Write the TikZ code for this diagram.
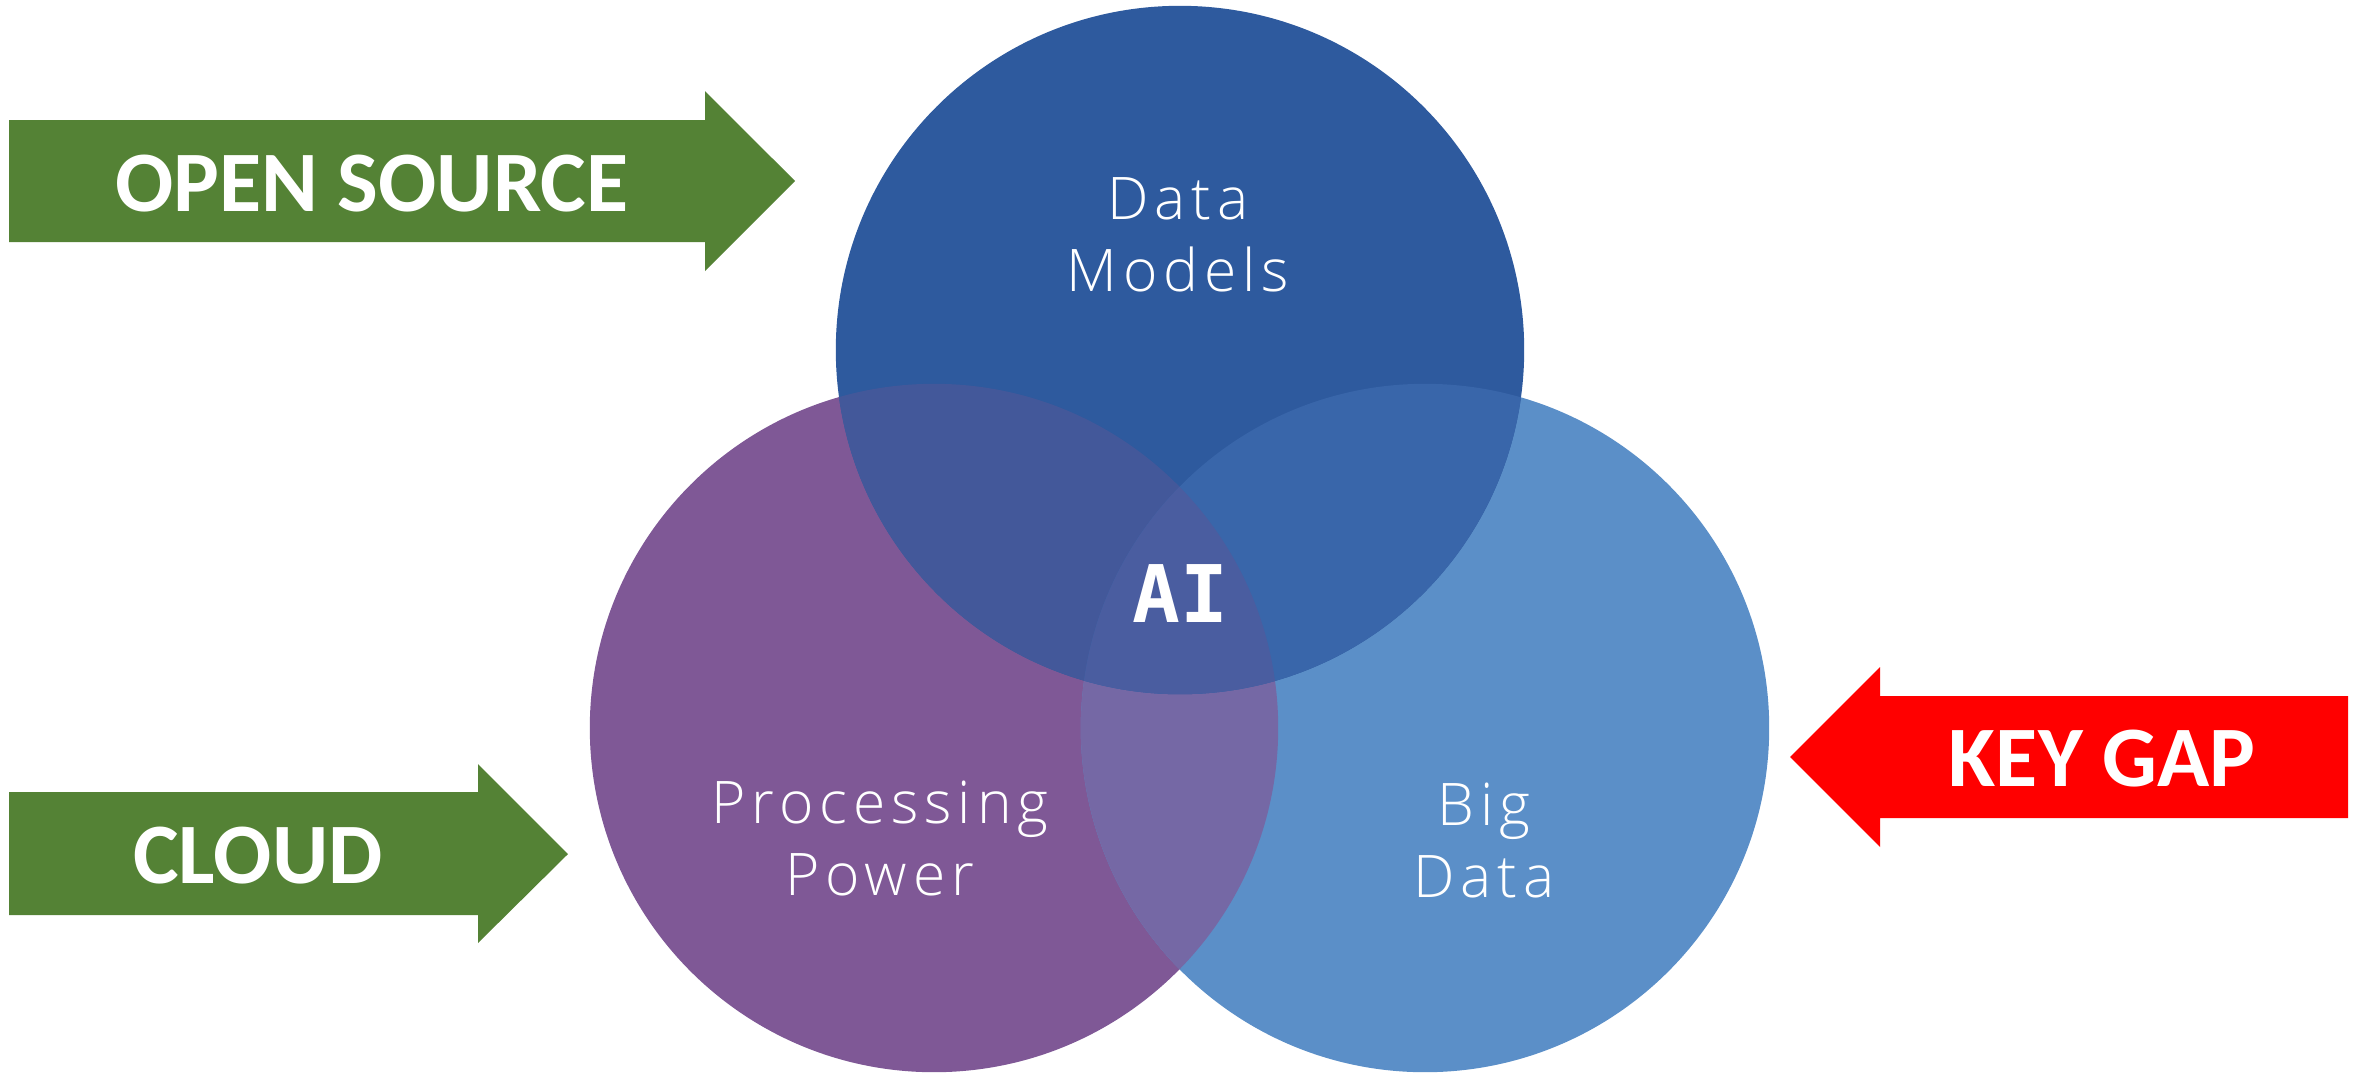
\documentclass[tikz,border=0pt]{standalone}
\usepackage{fontspec}
\setmainfont{Open Sans}[UprightFont=* Light, LetterSpace=10]
\newfontfamily\arrowfont{Carlito}[BoldFont=* Bold]
\newfontfamily\aifont{DejaVu Sans Mono}[BoldFont=* Bold]

\definecolor{dataBlue}{HTML}{2E5A9E}
\definecolor{procPurple}{HTML}{7F5896}
\definecolor{bigBlue}{HTML}{5B8FC8}
\definecolor{procBig}{HTML}{7568A5}
\definecolor{dataProc}{HTML}{43589A}
\definecolor{dataBig}{HTML}{3966AA}
\definecolor{allThree}{HTML}{4A5DA0}
\definecolor{arrowGreen}{HTML}{548235}
\definecolor{gapRed}{HTML}{FF0000}

\tikzset{
    circleText/.style={text=white, align=center, inner sep=0pt, anchor=base,
        font=\fontsize{16.7}{20.3}\selectfont},
    arrowText/.style={text=white, inner sep=0pt, anchor=base,
        font=\arrowfont\bfseries\fontsize{24.5}{28}\selectfont}
}

\begin{document}
\begin{tikzpicture}[x=0.01cm, y=-0.01cm]
        \useasboundingbox (0,0) rectangle (2357,1081);

        \coordinate (data) at (1180,350);
        \coordinate (proc) at (934,728);
        \coordinate (big) at (1425,728);

        \fill[procPurple] (proc) circle (3.44cm);
        \fill[bigBlue] (big) circle (3.44cm);
        \fill[dataBlue] (data) circle (3.44cm);
        \begin{scope}
            \clip (proc) circle (3.44cm);
            \fill[procBig] (big) circle (3.44cm);
        \end{scope}
        \begin{scope}
            \clip (data) circle (3.44cm);
            \fill[dataProc] (proc) circle (3.44cm);
            \fill[dataBig] (big) circle (3.44cm);
            \clip (proc) circle (3.44cm);
            \fill[allThree] (big) circle (3.44cm);
        \end{scope}

        \fill[arrowGreen] (9,120) -- (705,120) -- (705,91) -- (795,181)
            -- (705,271) -- (705,242) -- (9,242) -- cycle;
        \fill[arrowGreen] (9,792) -- (478,792) -- (478,764) -- (568,854)
            -- (478,943) -- (478,915) -- (9,915) -- cycle;
        \fill[gapRed] (2348,696) -- (1880,696) -- (1880,667) -- (1790,757)
            -- (1880,847) -- (1880,818) -- (2348,818) -- cycle;

        \node[arrowText] (openSource) at (372,211) {OPEN SOURCE};
        \node[arrowText] (cloud) at (258,883) {CLOUD};
        \node[arrowText] (keyGap) at (2102,786) {KEY GAP};

        \node[circleText] (dataModels) at (1178,291) {Data\\Models};
        \node[circleText] (processingPower) at (880,895) {Processing\\Power};
        \node[circleText] (bigData) at (1484,897) {Big\\Data};
        \node[text=white, inner sep=0pt, anchor=base,
            font=\aifont\bfseries\fontsize{22.6}{26}\selectfont] (ai) at (1180,622) {AI};
    \end{tikzpicture}
\end{document}
